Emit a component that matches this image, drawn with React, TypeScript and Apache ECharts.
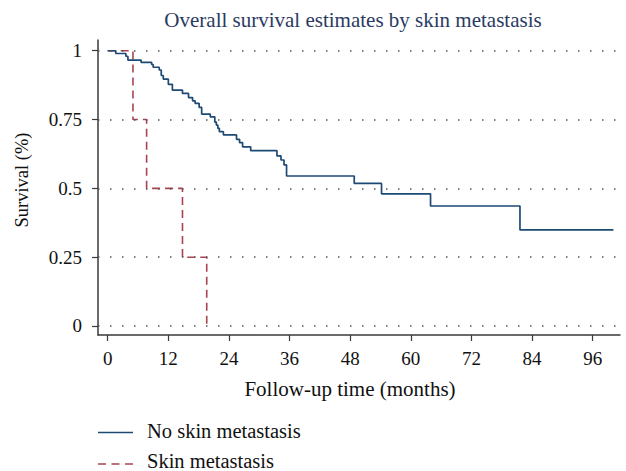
import React, { useEffect, useRef } from "react";
import * as echarts from "echarts";

const titleText = "Overall survival estimates by skin metastasis";
const xName = "Follow-up time (months)";
const yName = "Survival (%)";
const xTicks = [0, 12, 24, 36, 48, 60, 72, 84, 96];
const yTicks = [0, 0.25, 0.5, 0.75, 1];
const seriesNames = ["No skin metastasis", "Skin metastasis"];

const noSkinTimes = [0, 1.6, 3.6, 4.0, 6.6, 8.7, 9.0, 10.2, 10.6, 11.0, 12.0, 12.8, 14.8, 16.0, 16.8, 17.3, 18.1, 18.6, 20.3, 21.2, 21.5, 21.8, 22.1, 22.9, 25.5, 26.1, 26.7, 28.3, 33.5, 34.3, 34.9, 35.4, 48.8, 54.2, 63.9, 81.6, 100.1];
const noSkinSurv = [1.0, 0.99, 0.98, 0.966, 0.958, 0.95, 0.94, 0.93, 0.91, 0.897, 0.878, 0.857, 0.845, 0.83, 0.818, 0.809, 0.794, 0.77, 0.76, 0.741, 0.73, 0.718, 0.706, 0.694, 0.678, 0.666, 0.651, 0.637, 0.618, 0.603, 0.585, 0.545, 0.518, 0.48, 0.436, 0.349, 0.349];

const skinTimes = [0, 5.0, 7.7, 14.8, 19.6];
const skinSurv = [1.0, 0.75, 0.5, 0.25, 0];

const FONT = "Liberation Serif";
const BLUE = "#1d4a74";
const RED = "#a8434f";

export default function App() {
  const ref = useRef<HTMLDivElement>(null);
  useEffect(() => {
    const chart = echarts.init(ref.current!, null, { renderer: "svg" });
    chart.setOption({
      animation: false,
      backgroundColor: "#fff",
      grid: { left: 98, right: 6, top: 40, bottom: 136 },
      xAxis: {
        type: "value",
        min: -1.92,
        max: 101.4,
        axisLine: { show: true, onZero: false, lineStyle: { color: "#3a3a3a", width: 1.5 } },
        axisTick: { show: true, customValues: xTicks, length: 6, lineStyle: { color: "#3a3a3a", width: 1.2 } },
        axisLabel: { customValues: xTicks, fontFamily: FONT, fontSize: 19, color: "#111", margin: 14 },
        splitLine: { show: false },
      },
      yAxis: {
        type: "value",
        min: -0.0327,
        max: 1.039,
        axisLine: { show: true, onZero: false, lineStyle: { color: "#3a3a3a", width: 1.5 } },
        axisTick: { show: true, customValues: yTicks, length: 6, lineStyle: { color: "#3a3a3a", width: 1.2 } },
        axisLabel: { customValues: yTicks, fontFamily: FONT, fontSize: 19, color: "#111", margin: 16 },
        splitLine: { show: false },
      },
      graphic: [
        {
          type: "text",
          x: 353,
          y: 19.5,
          style: { text: titleText, font: `21px "${FONT}"`, fill: "#2b3a62", align: "center", verticalAlign: "middle" },
          silent: true,
        },
        {
          type: "text",
          x: 350,
          y: 389,
          style: { text: xName, font: `21px "${FONT}"`, fill: "#111", align: "center", verticalAlign: "middle" },
          silent: true,
        },
        {
          type: "text",
          x: 22,
          y: 180,
          rotation: Math.PI / 2,
          style: { text: yName, font: `18.5px "${FONT}"`, fill: "#111", align: "center", verticalAlign: "middle" },
          silent: true,
        },
        {
          type: "line",
          shape: { x1: 98, y1: 432.5, x2: 133, y2: 432.5 },
          style: { stroke: BLUE, lineWidth: 1.5 },
          silent: true,
        },
        {
          type: "text",
          x: 147,
          y: 431,
          style: { text: seriesNames[0], font: `20.5px "${FONT}"`, fill: "#111", align: "left", verticalAlign: "middle" },
          silent: true,
        },
        {
          type: "line",
          shape: { x1: 98, y1: 464, x2: 133, y2: 464 },
          style: { stroke: RED, lineWidth: 1.5, lineDash: [8, 5.5] },
          silent: true,
        },
        {
          type: "text",
          x: 147,
          y: 461,
          style: { text: seriesNames[1], font: `20.5px "${FONT}"`, fill: "#111", align: "left", verticalAlign: "middle" },
          silent: true,
        },
      ],
      series: [
        {
          name: "grid",
          type: "line",
          data: [],
          silent: true,
          z: 1,
          markLine: {
            silent: true,
            symbol: ["none", "none"],
            label: { show: false },
            lineStyle: { color: "#555", type: [1.5, 10.5], width: 1.5 },
            data: yTicks.map((v) => ({ yAxis: v })),
          },
        },
        {
          name: seriesNames[1],
          type: "line",
          step: "end",
          showSymbol: false,
          symbol: "none",
          z: 2,
          color: RED,
          lineStyle: { color: RED, width: 1.6, type: [8, 5] },
          data: skinTimes.map((t, i) => [t, skinSurv[i]]),
        },
        {
          name: seriesNames[0],
          type: "line",
          step: "end",
          showSymbol: false,
          symbol: "none",
          z: 3,
          color: BLUE,
          lineStyle: { color: BLUE, width: 1.7 },
          data: noSkinTimes.map((t, i) => [t, noSkinSurv[i]]),
        },
      ],
    });
    return () => chart.dispose();
  }, []);
  return <div ref={ref} style={{ width: 626, height: 471, position: "absolute", left: 0, top: 0 }} />;
}
